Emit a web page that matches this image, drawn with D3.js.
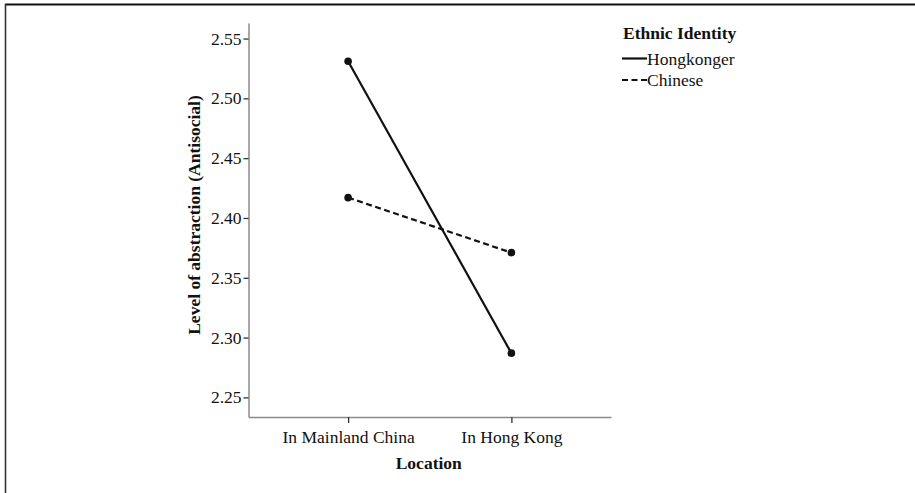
<!DOCTYPE html>
<html>
<head>
<meta charset="utf-8">
<script src="https://cdn.jsdelivr.net/npm/d3@7"></script>
<style>
  html, body { margin: 0; padding: 0; background: #fff; }
  svg { display: block; }
  text { font-family: "Liberation Serif", "Times New Roman", serif; fill: #111; }
</style>
</head>
<body>
<svg id="chart" width="915" height="493"></svg>
<script>
// Estimated marginal means by location and ethnic identity
const locations = ["In Mainland China", "In Hong Kong"];
const groups = ["Hongkonger", "Chinese"];
const hongkongerMeans = [2.531, 2.287];
const chineseMeans = [2.417, 2.371];
const yTicks = [2.25, 2.30, 2.35, 2.40, 2.45, 2.50, 2.55];

const series = [
  { name: groups[0], values: hongkongerMeans, dash: null },
  { name: groups[1], values: chineseMeans, dash: "6,3.5" }
];

const svg = d3.select("#chart");
const fontSize = 17.5;

// frame lines along the top and left edges
svg.append("line").attr("x1", 5).attr("x2", 915).attr("y1", 4.5).attr("y2", 4.5)
  .attr("stroke", "#111").attr("stroke-width", 1.8);
svg.append("line").attr("x1", 5.5).attr("x2", 5.5).attr("y1", 4).attr("y2", 493)
  .attr("stroke", "#333").attr("stroke-width", 1.6);

const plot = { left: 248.5, right: 611, top: 23, bottom: 417 };

const x = d3.scalePoint()
  .domain(locations)
  .range([plot.left, plot.right])
  .padding(0.61);

const y = d3.scaleLinear()
  .domain([2.2336, 2.5630])
  .range([plot.bottom, plot.top]);

// y axis
const yAxis = svg.append("g")
  .attr("transform", `translate(${plot.left},0)`)
  .call(d3.axisLeft(y).tickValues(yTicks).tickFormat(d3.format(".2f")).tickSize(5).tickSizeOuter(0).tickPadding(2));
yAxis.select(".domain").attr("stroke", "#8a8a8a").attr("stroke-width", 1.5);
yAxis.selectAll(".tick line").attr("stroke", "#333").attr("stroke-width", 1.3);
yAxis.selectAll(".tick text")
  .style("font-family", "'Liberation Serif', serif")
  .style("font-size", fontSize + "px")
  .attr("fill", "#111");

// x axis
const xAxis = svg.append("g")
  .attr("transform", `translate(0,${plot.bottom})`)
  .call(d3.axisBottom(x).tickSize(6).tickSizeOuter(0).tickPadding(8));
xAxis.select(".domain").attr("stroke", "#8a8a8a").attr("stroke-width", 1.5);
xAxis.selectAll(".tick line").attr("stroke", "#333").attr("stroke-width", 1.3);
xAxis.selectAll(".tick text")
  .style("font-family", "'Liberation Serif', serif")
  .style("font-size", fontSize + "px")
  .attr("fill", "#111");

// axis titles
svg.append("text")
  .attr("x", (plot.left + plot.right) / 2 - 1)
  .attr("y", 469)
  .attr("text-anchor", "middle")
  .style("font-weight", "bold")
  .style("font-size", fontSize + "px")
  .text("Location");

svg.append("text")
  .attr("transform", "translate(200,215) rotate(-90)")
  .attr("text-anchor", "middle")
  .style("font-weight", "bold")
  .style("font-size", fontSize + "px")
  .text("Level of abstraction (Antisocial)");

// lines and points
const line = d3.line()
  .x((d, i) => x(locations[i]))
  .y(d => y(d));

series.forEach(s => {
  svg.append("path")
    .datum(s.values)
    .attr("d", line)
    .attr("fill", "none")
    .attr("stroke", "#111")
    .attr("stroke-width", 2.2)
    .attr("stroke-dasharray", s.dash);
  svg.selectAll(null)
    .data(s.values)
    .enter().append("circle")
    .attr("cx", (d, i) => x(locations[i]))
    .attr("cy", d => y(d))
    .attr("r", 3.8)
    .attr("fill", "#111");
});

// legend
const legend = svg.append("g").attr("transform", "translate(622,0)");
legend.append("text")
  .attr("x", 1).attr("y", 39)
  .style("font-weight", "bold")
  .style("font-size", fontSize + "px")
  .text("Ethnic Identity");
series.forEach((s, i) => {
  const ly = 58.5 + i * 21.5;
  legend.append("line")
    .attr("x1", 0).attr("x2", 25)
    .attr("y1", ly).attr("y2", ly)
    .attr("stroke", "#111").attr("stroke-width", 2.2)
    .attr("stroke-dasharray", s.dash);
  legend.append("text")
    .attr("x", 25).attr("y", ly + 6.3)
    .style("font-size", fontSize + "px")
    .text(s.name);
});
</script>
</body>
</html>
